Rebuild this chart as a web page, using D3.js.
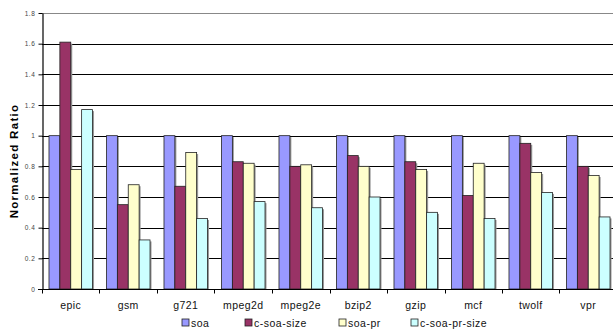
<!DOCTYPE html>
<html>
<head>
<meta charset="utf-8">
<script src="https://cdn.jsdelivr.net/npm/d3@7/dist/d3.min.js"></script>
<style>
  html, body { margin: 0; padding: 0; background: #fff; }
  svg { display: block; font-family: "Liberation Sans", Arial, sans-serif; }
</style>
</head>
<body>
<svg id="chart" width="613" height="333"></svg>
<script>
// Benchmarks and the four configurations compared
const categories = ["epic", "gsm", "g721", "mpeg2d", "mpeg2e", "bzip2", "gzip", "mcf", "twolf", "vpr"];
const seriesNames = ["soa", "c-soa-size", "soa-pr", "c-soa-pr-size"];
const seriesColors = ["#9999FF", "#993366", "#FFFFCC", "#CCFFFF"];

// Normalized ratio per benchmark, one array per configuration
const soa        = [1.00, 1.00, 1.00, 1.00, 1.00, 1.00, 1.00, 1.00, 1.00, 1.00];
const cSoaSize   = [1.61, 0.55, 0.67, 0.83, 0.80, 0.87, 0.83, 0.61, 0.95, 0.80];
const soaPr      = [0.78, 0.68, 0.89, 0.82, 0.81, 0.80, 0.78, 0.82, 0.76, 0.74];
const cSoaPrSize = [1.17, 0.32, 0.46, 0.57, 0.53, 0.60, 0.50, 0.46, 0.63, 0.47];

const yTicks = [0, 0.2, 0.4, 0.6, 0.8, 1.0, 1.2, 1.4, 1.6, 1.8];
const yTitle = "Normalized Ratio";

const seriesValues = [soa, cSoaSize, soaPr, cSoaPrSize];

const svg = d3.select("#chart");
const plotLeft = 42, plotRight = 617, plotTop = 13, plotBottom = 289;

const x = d3.scaleBand().domain(categories).range([plotLeft, plotRight])
  .paddingInner(0.243).paddingOuter(0.1215);
const xs = d3.scaleBand().domain(seriesNames).range([0, x.bandwidth()]);
const y = d3.scaleLinear().domain([0, 1.8]).range([plotBottom, plotTop]);

// Horizontal gridlines
svg.append("g").selectAll("line")
  .data(yTicks.filter(d => d > 0))
  .join("line")
  .attr("x1", plotLeft).attr("x2", 613)
  .attr("y1", d => Math.round(y(d)) + 0.5).attr("y2", d => Math.round(y(d)) + 0.5)
  .attr("stroke", d => d === 1.8 ? "#888" : "#000")
  .attr("stroke-width", 1);

// Bars
const groups = svg.append("g").selectAll("g")
  .data(categories)
  .join("g")
  .attr("transform", d => `translate(${x(d)},0)`);

const cells = groups.selectAll("g")
  .data((c, i) => seriesNames.map((s, k) => ({ s, k, v: seriesValues[k][i] })))
  .join("g");

// soft drop shadow on the right side of each bar
cells.append("rect")
  .attr("x", d => xs(d.s) + 1.5)
  .attr("y", d => y(d.v) + 1.5)
  .attr("width", xs.bandwidth())
  .attr("height", d => plotBottom - y(d.v) - 1.5)
  .attr("fill", "#999");

cells.append("rect")
  .attr("x", d => xs(d.s))
  .attr("y", d => y(d.v))
  .attr("width", xs.bandwidth())
  .attr("height", d => plotBottom - y(d.v))
  .attr("fill", d => seriesColors[d.k])
  .attr("stroke", "#222")
  .attr("stroke-width", 0.8);

// Y axis
const yAxis = d3.axisLeft(y).tickValues(yTicks).tickSize(4).tickSizeOuter(0)
  .tickFormat(d3.format("~g"));
const yg = svg.append("g").attr("transform", `translate(${plotLeft + 0.5},0)`).call(yAxis);
yg.select(".domain").attr("stroke", "#000").attr("stroke-width", 1.2);
yg.selectAll(".tick line").attr("stroke", "#000");
yg.selectAll(".tick text").attr("font-size", "6.5px").attr("fill", "#444")
  .attr("font-family", "'Liberation Sans', Arial, sans-serif").attr("letter-spacing", "0.6px");

// X axis: ticks at category boundaries
const xg = svg.append("g").attr("transform", `translate(0,${plotBottom + 0.5})`);
xg.append("line").attr("x1", plotLeft - 4).attr("x2", 613).attr("stroke", "#000").attr("stroke-width", 1.2);
xg.selectAll("line.b")
  .data(categories)
  .join("line").attr("class", "b")
  .attr("x1", d => Math.round(x(d) - x.step() * x.paddingOuter()) + 0.5)
  .attr("x2", d => Math.round(x(d) - x.step() * x.paddingOuter()) + 0.5)
  .attr("y1", 0).attr("y2", 4).attr("stroke", "#000");
xg.selectAll("text")
  .data(categories)
  .join("text")
  .attr("x", d => x(d) + x.bandwidth() / 2)
  .attr("y", 19)
  .attr("text-anchor", "middle")
  .attr("font-size", "10.5px")
  .attr("letter-spacing", "0.4px")
  .attr("fill", "#111")
  .text(d => d);

// Y axis title
svg.append("text")
  .attr("transform", `translate(18,${(plotTop + plotBottom) / 2 + 10}) rotate(-90)`)
  .attr("text-anchor", "middle")
  .attr("font-size", "11.5px")
  .attr("font-weight", "bold")
  .attr("letter-spacing", "1.3px")
  .attr("fill", "#000")
  .text(yTitle);

// Legend
const legendX = [182, 245, 339, 411];
const legend = svg.append("g").selectAll("g")
  .data(seriesNames)
  .join("g")
  .attr("transform", (d, i) => `translate(${legendX[i]},319)`);
legend.append("rect")
  .attr("width", 7).attr("height", 7)
  .attr("fill", (d, i) => seriesColors[i])
  .attr("stroke", "#222").attr("stroke-width", 0.8);
legend.append("text")
  .attr("x", 9).attr("y", 7.5)
  .attr("font-size", "10.5px")
  .attr("letter-spacing", "0.5px")
  .attr("fill", "#111")
  .text(d => d);
</script>
</body>
</html>
